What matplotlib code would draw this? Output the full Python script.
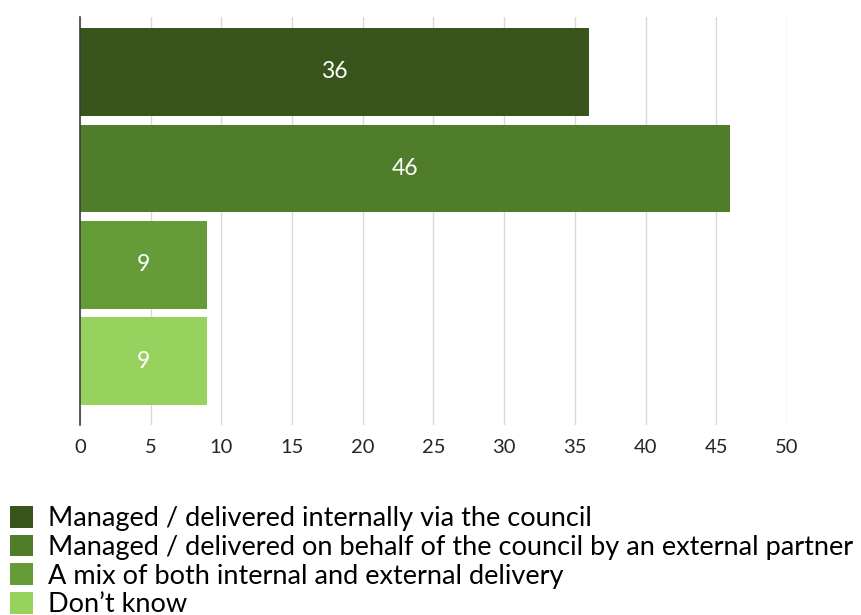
import matplotlib
matplotlib.use("Agg")
import matplotlib.pyplot as plt
from matplotlib.patches import Patch

plt.rcParams['font.family'] = ['Lato', 'DejaVu Sans']

categories = [
    "Managed / delivered internally via the council",
    "Managed / delivered on behalf of the council by an external partner",
    "A mix of both internal and external delivery",
    "Don\u2019t know",
]
values = [36, 46, 9, 9]
colors = ["#38561C", "#4F7D2A", "#659C37", "#97D25E"]
xticks = [0, 5, 10, 15, 20, 25, 30, 35, 40, 45, 50]

fig = plt.figure(figsize=(8.62, 6.15), dpi=100)
ax = fig.add_axes([80 / 862, 1 - 425 / 615, (787 - 80) / 862, (425 - 17) / 615])

positions = list(range(len(values)))
bars = ax.barh(positions, values, height=0.91, color=colors, zorder=2)
for bar, v in zip(bars, values):
    ax.text(bar.get_width() / 2, bar.get_y() + bar.get_height() / 2, str(v),
            ha='center', va='center', color='white', fontsize=16.5)

ax.set_xlim(0, 50)
ax.set_ylim(3.66, -0.57)
ax.set_xticks(xticks)
ax.set_xticklabels([str(t) for t in xticks], fontsize=14.5)
ax.set_yticks([])
ax.grid(axis='x', color='#D9D9D9', linewidth=1, zorder=0)
for s in ['top', 'right', 'bottom']:
    ax.spines[s].set_visible(False)
ax.spines['left'].set_color('#404040')
ax.spines['left'].set_linewidth(1.2)
ax.tick_params(axis='x', length=0, pad=10, colors='#262626')

handles = [Patch(facecolor=c, edgecolor='none') for c in colors]
fig.legend(handles, categories, loc='upper left', bbox_to_anchor=(10 / 862, 1 - 506 / 615),
           frameon=False, fontsize=19.5, handlelength=0.85, handleheight=0.85,
           handletextpad=0.55, labelspacing=0.13, borderpad=0, borderaxespad=0)

fig.savefig("out.png", dpi=100)
